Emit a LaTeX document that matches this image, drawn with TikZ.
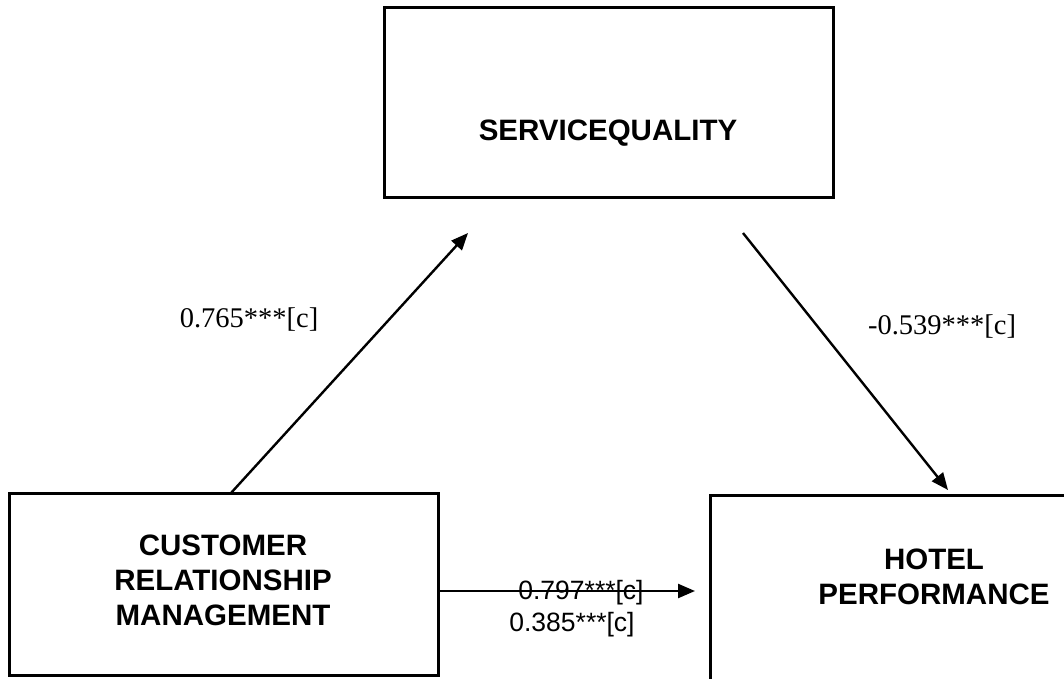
\documentclass[tikz,border=0pt]{standalone}
\usepackage{fontspec}
\setmainfont{Liberation Serif}
\newfontfamily\arialfont{Liberation Sans}
\usetikzlibrary{arrows.meta}
\tikzset{
  box/.style={draw=black, line width=3pt, fill=none, inner sep=0pt},
  boxtext/.style={font=\arialfont\bfseries\fontsize{29.5}{35}\selectfont, align=center, inner sep=0pt},
  serlab/.style={font=\fontsize{28.5}{32}\selectfont, inner sep=0pt},
  sanslab/.style={font=\arialfont\fontsize{26.5}{30}\selectfont, inner sep=0pt},
  conn/.style={line width=2.4pt, -{Triangle[length=17pt,width=14pt]}}
}
\begin{document}
\begin{tikzpicture}[x=1pt,y=-1pt]
\useasboundingbox (0,0) rectangle (1064,679);
\clip (0,0) rectangle (1064,679);
% boxes
\node[box, minimum width=449pt, minimum height=189pt] (sq) at (608.5,102.5) {};
\node[boxtext] (sqt) at (608,133) {SERVICEQUALITY};
\node[box, minimum width=429pt, minimum height=182pt] (crm) at (223.5,584) {};
\node[boxtext] (crmt) at (223,580) {CUSTOMER\\RELATIONSHIP\\MANAGEMENT};
\node[box, minimum width=420pt, minimum height=250pt] (hp) at (920,620) {};
\node[boxtext] (hpt) at (934,577) {HOTEL\\PERFORMANCE};
% connector endpoints
\coordinate (a1s) at (231,493);
\coordinate (a1e) at (468,233);
\coordinate (a2s) at (743,233);
\coordinate (a2e) at (948,490);
\coordinate (a3s) at (438,591);
\coordinate (a3e) at (695,591);
\draw[conn] (a1s) -- (a1e);
\draw[conn] (a2s) -- (a2e);
\draw[conn] (a3s) -- (a3e);
% labels
\node[serlab] (l1) at (249,320) {0.765***[c]};
\node[serlab] (l2) at (942,327) {-0.539***[c]};
\node[sanslab] (l3) at (581,593) {0.797***[c]};
\node[sanslab] (l4) at (572,625) {0.385***[c]};
\end{tikzpicture}
\end{document}
